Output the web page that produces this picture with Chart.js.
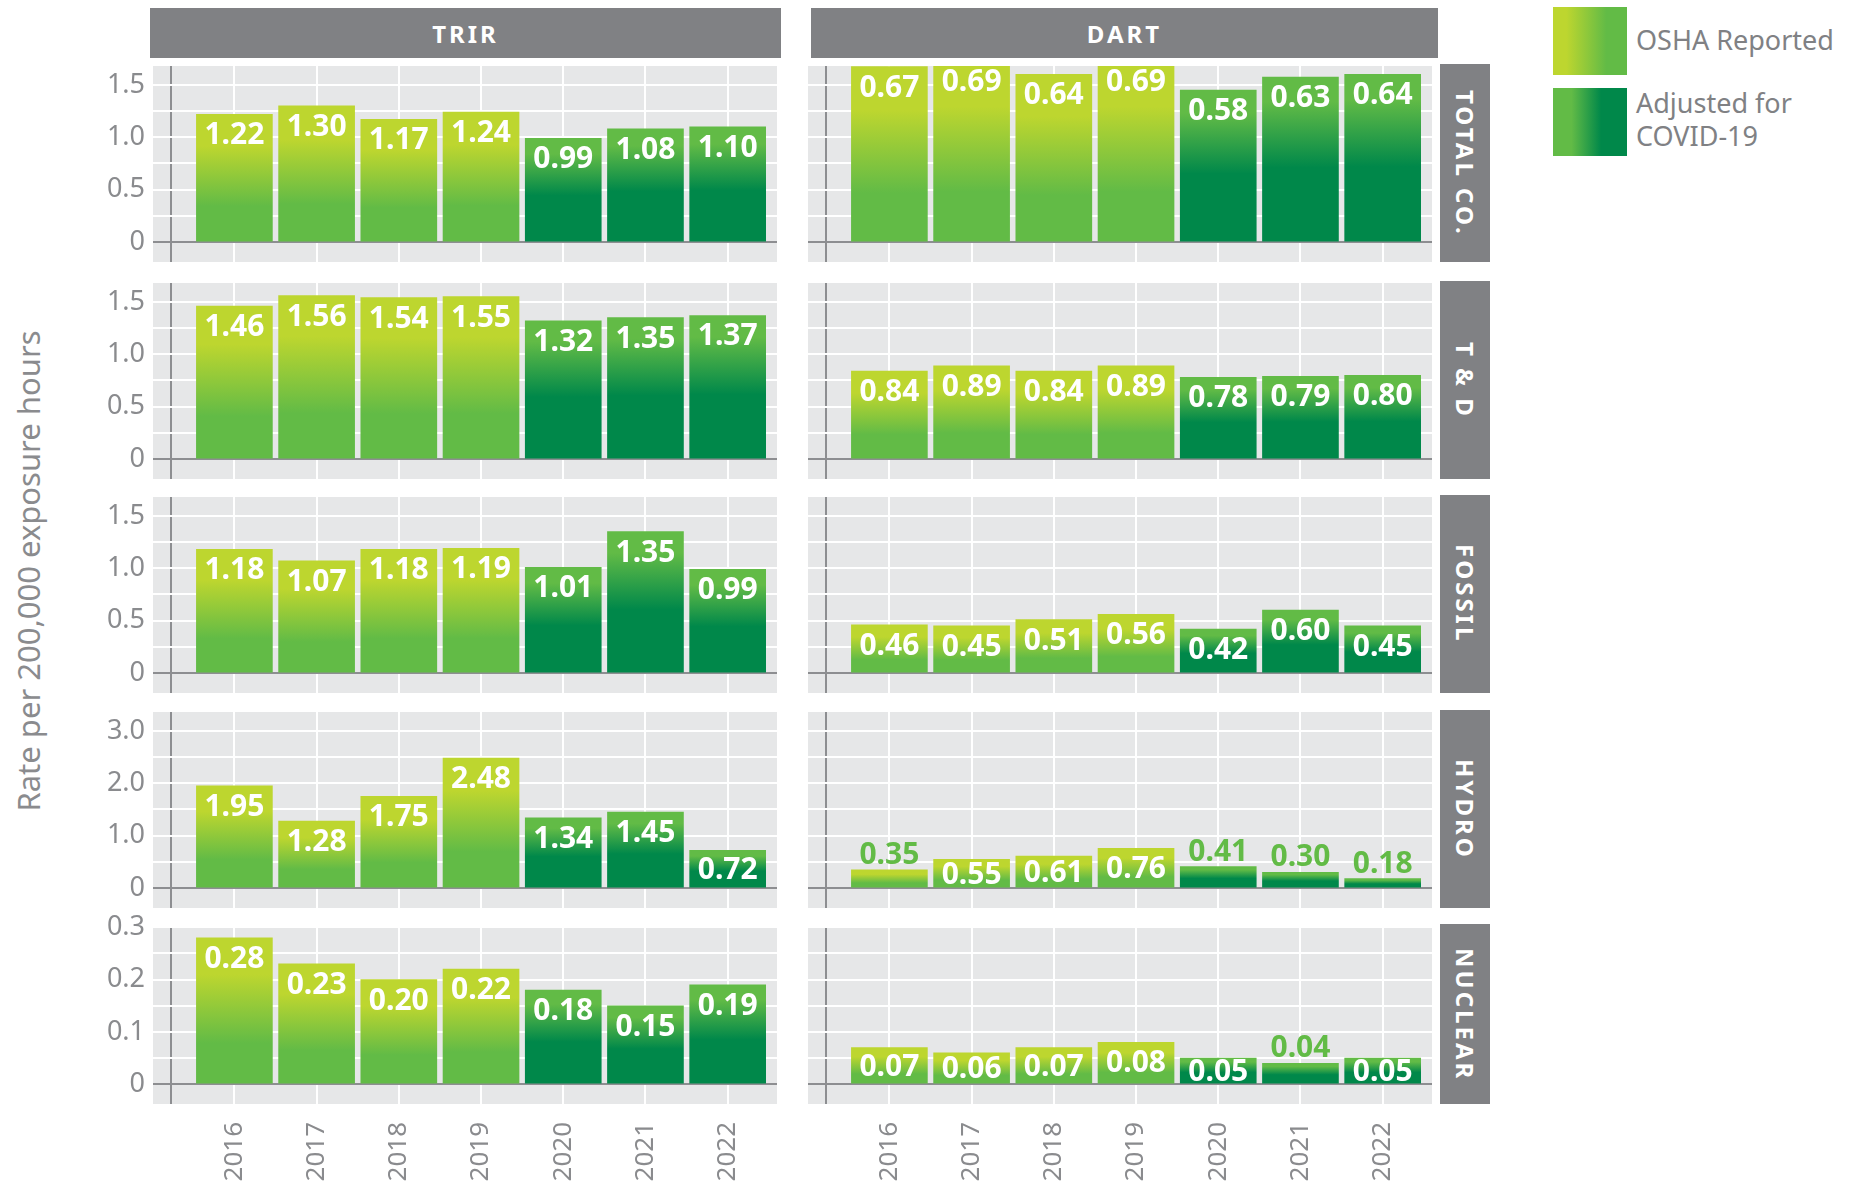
<!DOCTYPE html>
<html lang="en">
<head>
  <meta charset="UTF-8">
  <title>TRIR and DART by business unit</title>
  <script src="https://cdn.jsdelivr.net/npm/chart.js@4.4.1/dist/chart.umd.min.js"></script>
  <style>
    body { margin: 0; background: #fff; font-family: 'Noto Sans', sans-serif; }
    #page { position: relative; width: 1855px; height: 1183px; overflow: hidden; }
    #page canvas { position: absolute; }

    .col-head {
      position: absolute; top: 8px; height: 50px;
      background: #808184; color: #fff;
      font-weight: 700; font-size: 24px; letter-spacing: 3px;
      display: flex; align-items: center; justify-content: center;
    }
    .row-head {
      position: absolute; left: 1440px; width: 50px;
      background: #808184; color: #fff;
      font-weight: 700; font-size: 24px; letter-spacing: 3px;
      writing-mode: vertical-rl;
      display: flex; align-items: center; justify-content: center;
    }
    .swatch { position: absolute; left: 1553px; width: 74px; height: 68px; }
    .leg-text {
      position: absolute; left: 1636px; font-size: 27px; line-height: 33px;
      color: #808184; white-space: nowrap;
    }
    #y-title {
      position: absolute; left: 28px; top: 571px;
      transform: translate(-50%, -50%) rotate(-90deg);
      font-size: 31px; color: #8a8b8e; white-space: nowrap;
    }
  </style>
</head>
<body>
  <div id="page">
    <div class="col-head" style="left:150px;width:631px">TRIR</div>
    <div class="col-head" style="left:811px;width:627px">DART</div>

    <div class="swatch" style="top:7px;background:linear-gradient(to right,#bdd62f 18%,#62bb46 72%)"></div>
    <div class="leg-text" style="top:23px">OSHA Reported</div>
    <div class="swatch" style="top:88px;background:linear-gradient(to right,#62bb46 25%,#00884a 65%)"></div>
    <div class="leg-text" style="top:86px">Adjusted for<br>COVID-19</div>

    <div id="y-title">Rate per 200,000 exposure hours</div>
  </div>

  <script>
    // ---- data ----
    const years = ['2016', '2017', '2018', '2019', '2020', '2021', '2022'];
    const firstAdjusted = 4; // 2020 onwards is "Adjusted for COVID-19"
    const sectors = ['TOTAL CO.', 'T & D', 'FOSSIL', 'HYDRO', 'NUCLEAR'];

    const trirTotalCo = [1.22, 1.30, 1.17, 1.24, 0.99, 1.08, 1.10];
    const trirTD      = [1.46, 1.56, 1.54, 1.55, 1.32, 1.35, 1.37];
    const trirFossil  = [1.18, 1.07, 1.18, 1.19, 1.01, 1.35, 0.99];
    const trirHydro   = [1.95, 1.28, 1.75, 2.48, 1.34, 1.45, 0.72];
    const trirNuclear = [0.28, 0.23, 0.20, 0.22, 0.18, 0.15, 0.19];

    const dartTotalCo = [0.67, 0.69, 0.64, 0.69, 0.58, 0.63, 0.64];
    const dartTD      = [0.84, 0.89, 0.84, 0.89, 0.78, 0.79, 0.80];
    const dartFossil  = [0.46, 0.45, 0.51, 0.56, 0.42, 0.60, 0.45];
    const dartHydro   = [0.35, 0.55, 0.61, 0.76, 0.41, 0.30, 0.18];
    const dartNuclear = [0.07, 0.06, 0.07, 0.08, 0.05, 0.04, 0.05];

    // value between two grid lines; every second line carries a label
    const trirGridStep = [0.25, 0.25, 0.25, 0.5, 0.05];
    // the original draws the total-company DART panel on a stretched scale
    const dartGridStep = [0.1, 0.25, 0.25, 0.5, 0.05];

    // ---- layout ----
    const rowTop = [66, 283, 497, 712, 926];
    const stepsAbove = [6.72, 6.72, 6.72, 6.72, 6.05];
    const stepsBelow = 0.76;
    const stepPx = 26.2;
    const padTop = 20, padBottom = 20, yearAxisH = 80;
    const xMin = -0.99, xMax = 6.6, axisLineAt = -0.765;

    const axisGray = '#8d8e91';
    const textGray = '#8a8b8e';
    const yellowGreen = '#bdd62f', green = '#62bb46', darkGreen = '#00884a';

    Chart.defaults.font.family = "'Noto Sans', sans-serif";

    function barFill(top, bottom, a, b) {
      return (ctx) => {
        const chart = ctx.chart;
        if (!chart.chartArea || !ctx.raw) return bottom;
        const y = chart.scales.y;
        const g = chart.ctx.createLinearGradient(0, y.getPixelForValue(ctx.raw.y), 0, y.getPixelForValue(0));
        g.addColorStop(0, top);
        g.addColorStop(a, top);
        g.addColorStop(b, bottom);
        g.addColorStop(1, bottom);
        return g;
      };
    }

    const panelBg = {
      id: 'panelBg',
      beforeDraw(chart) {
        const a = chart.chartArea;
        chart.ctx.fillStyle = '#e6e7e8';
        chart.ctx.fillRect(a.left, a.top, a.width, a.height);
      }
    };

    const valueLabels = {
      id: 'valueLabels',
      afterDatasetsDraw(chart) {
        const c = chart.ctx;
        const cap = 21;
        c.save();
        c.font = "bold 30px 'Noto Sans', sans-serif";
        c.textAlign = 'center';
        c.textBaseline = 'alphabetic';
        chart.data.datasets.forEach((ds, di) => {
          chart.getDatasetMeta(di).data.forEach((bar, i) => {
            const txt = ds.data[i].y.toFixed(2);
            const h = bar.base - bar.y;
            if (h < 24) {
              c.fillStyle = green;
              c.fillText(txt, bar.x, bar.y - 6);
            } else {
              c.fillStyle = '#fff';
              const mid = Math.min(bar.y + 9 + cap / 2, (bar.y + bar.base) / 2);
              c.fillText(txt, bar.x, mid + cap / 2);
            }
          });
        });
        c.restore();
      }
    };

    const page = document.getElementById('page');

    function makePanel(left, width, r, values, step, showY) {
      const isBottom = r === sectors.length - 1;
      const areaH = (stepsAbove[r] + stepsBelow) * stepPx;
      const canvas = document.createElement('canvas');
      canvas.width = width;
      canvas.height = Math.round(padTop + areaH + (isBottom ? yearAxisH : padBottom));
      canvas.style.left = left + 'px';
      canvas.style.top = (rowTop[r] - padTop) + 'px';
      page.appendChild(canvas);

      const point = (v, i) => ({ x: i, y: v });
      const pts = values.map(point);

      new Chart(canvas, {
        type: 'bar',
        data: {
          datasets: [
            { label: 'OSHA Reported', data: pts.slice(0, firstAdjusted),
              backgroundColor: barFill(yellowGreen, green, 0.25, 0.72) },
            { label: 'Adjusted for COVID-19', data: pts.slice(firstAdjusted),
              backgroundColor: barFill(green, darkGreen, 0.15, 0.55) }
          ]
        },
        options: {
          responsive: false,
          animation: false,
          layout: { padding: { top: padTop, bottom: isBottom ? 0 : padBottom, left: 0, right: 0 } },
          plugins: { legend: { display: false }, tooltip: { enabled: false } },
          datasets: { bar: { grouped: false, barThickness: 76 } },
          scales: {
            x: {
              type: 'linear', min: xMin, max: xMax, offset: false,
              afterBuildTicks: (ax) => {
                ax.ticks = [axisLineAt, ...years.map((_, i) => i)].map(v => ({ value: v }));
              },
              afterFit: (ax) => {
                ax.height = isBottom ? yearAxisH : 0;
                ax.paddingLeft = 0; ax.paddingRight = 0;
              },
              grid: {
                offset: false, drawTicks: false, lineWidth: 2,
                color: (c) => (c.tick && c.tick.value < 0) ? axisGray : '#ffffff'
              },
              border: { display: false },
              ticks: {
                display: isBottom, autoSkip: false, minRotation: 90, maxRotation: 90,
                padding: 18, color: textGray, font: { size: 26 },
                callback: (v) => Number.isInteger(v) ? years[v] : ''
              }
            },
            y: {
              min: -stepsBelow * step, max: stepsAbove[r] * step,
              afterBuildTicks: (ax) => {
                const ticks = [];
                for (let k = 0; k <= Math.floor(stepsAbove[r]); k++) {
                  ticks.push({ value: Math.round(k * step * 1000) / 1000 });
                }
                ax.ticks = ticks;
              },
              afterFit: (ax) => {
                ax.width = showY ? 53 : 0;
                ax.paddingTop = 0; ax.paddingBottom = 0;
              },
              grid: {
                drawTicks: false, lineWidth: 2,
                color: (c) => (c.tick && Math.abs(c.tick.value) < 1e-9) ? axisGray : '#ffffff'
              },
              border: { display: false },
              ticks: {
                display: showY, autoSkip: false, padding: 8, color: textGray, font: { size: 27 },
                callback: (v, i) => i % 2 ? '' : (v === 0 ? '0' : v.toFixed(1))
              }
            }
          }
        },
        plugins: [panelBg, valueLabels]
      });
    }

    const trirRows = [trirTotalCo, trirTD, trirFossil, trirHydro, trirNuclear];
    const dartRows = [dartTotalCo, dartTD, dartFossil, dartHydro, dartNuclear];

    sectors.forEach((name, r) => {
      makePanel(100, 677, r, trirRows[r], trirGridStep[r], true);
      makePanel(808, 624, r, dartRows[r], dartGridStep[r], false);

      const strip = document.createElement('div');
      strip.className = 'row-head';
      strip.textContent = name;
      strip.style.top = (rowTop[r] - 2) + 'px';
      strip.style.height = ((stepsAbove[r] + stepsBelow) * stepPx + 2) + 'px';
      page.appendChild(strip);
    });
  </script>
</body>
</html>
